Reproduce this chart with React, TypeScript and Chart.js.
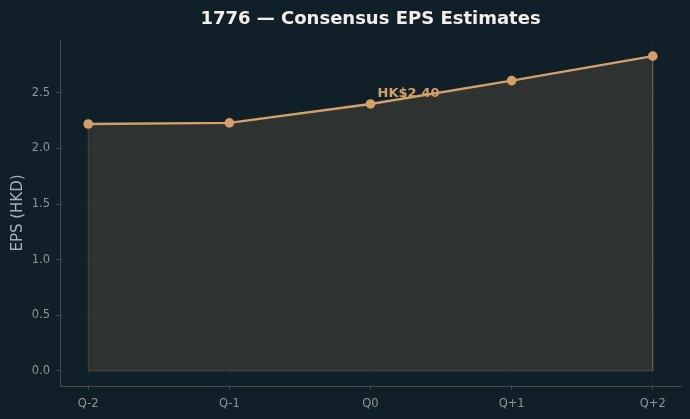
import React, { useEffect, useRef } from "react";
import { Chart, registerables } from "chart.js";

Chart.register(...registerables);

const quarters = ["Q-2", "Q-1", "Q0", "Q+1", "Q+2"];
const epsValues = [2.22, 2.23, 2.4, 2.61, 2.83];
const yTickValues = [0, 0.5, 1.0, 1.5, 2.0, 2.5];
const highlightIndex = 2;
const titleText = "1776 — Consensus EPS Estimates";
const yAxisTitle = "EPS (HKD)";

const BG = "#112028";
const LINE = "#d4a06a";
const FILL = "rgba(212,160,106,0.15)";
const EDGE = "rgba(190,170,130,0.2)";
const SPINE = "#474a4b";
const GRID = "rgba(255,255,255,0.022)";
const TICK_TEXT = "#8e9497";
const LABEL_TEXT = "#aab0b2";
const TITLE_TEXT = "#f2efe9";
const FONT = '"DejaVu Sans", sans-serif';

const valueLabelPlugin = {
  id: "valueLabel",
  afterDatasetsDraw(chart: any) {
    const { ctx, scales } = chart;
    const px = scales.x.getPixelForValue(highlightIndex);
    const py = scales.y.getPixelForValue(epsValues[highlightIndex]);
    ctx.save();
    ctx.font = `bold 13px ${FONT}`;
    ctx.fillStyle = LINE;
    ctx.textAlign = "left";
    ctx.textBaseline = "middle";
    ctx.fillText(`HK$${epsValues[highlightIndex].toFixed(2)}`, px + 7, py - 10);
    ctx.restore();
  },
};

export default function App() {
  const ref = useRef<HTMLCanvasElement | null>(null);

  useEffect(() => {
    document.body.style.margin = "0";
    document.body.style.background = BG;
    const canvas = ref.current;
    if (!canvas) return;
    Chart.defaults.font.family = FONT;

    const points = epsValues.map((v, i) => ({ x: i, y: v }));
    const last = epsValues.length - 1;
    const outline = [{ x: 0, y: 0 }, ...points, { x: last, y: 0 }, { x: 0, y: 0 }];

    const chart = new Chart(canvas, {
      type: "line",
      data: {
        datasets: [
          {
            data: points,
            borderColor: LINE,
            borderWidth: 2.4,
            pointRadius: 4.8,
            pointBackgroundColor: LINE,
            pointBorderWidth: 0,
            fill: false,
            tension: 0,
          },
          {
            data: outline,
            borderColor: EDGE,
            borderWidth: 1,
            pointRadius: 0,
            fill: false,
            tension: 0,
          },
          {
            data: points,
            borderWidth: 0,
            borderColor: "rgba(0,0,0,0)",
            backgroundColor: FILL,
            pointRadius: 0,
            fill: "origin",
            tension: 0,
          },
        ],
      },
      options: {
        responsive: false,
        animation: false,
        devicePixelRatio: 1,
        layout: { padding: { left: 0, right: 9, top: 0, bottom: 0 } },
        plugins: {
          legend: { display: false },
          tooltip: { enabled: false },
          title: {
            display: true,
            text: titleText,
            color: TITLE_TEXT,
            fullSize: false,
            font: { size: 18, weight: "bold", family: FONT },
            padding: { top: 9, bottom: 9.4 },
          },
        },
        scales: {
          x: {
            type: "linear",
            min: -0.2,
            max: 4.2,
            afterBuildTicks: (s: any) => {
              s.ticks = quarters.map((_, i) => ({ value: i }));
            },
            afterFit: (s: any) => {
              s.height = 33;
            },
            ticks: {
              callback: (v: any) => quarters[v] ?? "",
              color: TICK_TEXT,
              font: { size: 11.5, family: FONT },
              padding: 7,
              autoSkip: false,
              maxRotation: 0,
            },
            grid: { color: GRID, tickColor: SPINE, tickLength: 4, drawTicks: true },
            border: { color: SPINE, width: 1 },
          },
          y: {
            type: "linear",
            min: -0.135,
            max: 2.975,
            afterBuildTicks: (s: any) => {
              s.ticks = yTickValues.map((v) => ({ value: v }));
            },
            afterFit: (s: any) => {
              s.width = 60;
            },
            ticks: {
              callback: (v: any) => Number(v).toFixed(1),
              color: TICK_TEXT,
              font: { size: 11.5, family: FONT },
              padding: 6,
            },
            grid: { color: GRID, tickColor: SPINE, tickLength: 4, drawTicks: true },
            border: { color: SPINE, width: 1 },
            title: {
              display: true,
              text: yAxisTitle,
              color: LABEL_TEXT,
              font: { size: 15, family: FONT },
              padding: { top: 9, bottom: 0 },
            },
          },
        },
      },
      plugins: [valueLabelPlugin],
    });

    return () => chart.destroy();
  }, []);

  return (
    <div style={{ width: 690, height: 419, background: BG }}>
      <canvas ref={ref} width={690} height={419} style={{ display: "block" }} />
    </div>
  );
}
